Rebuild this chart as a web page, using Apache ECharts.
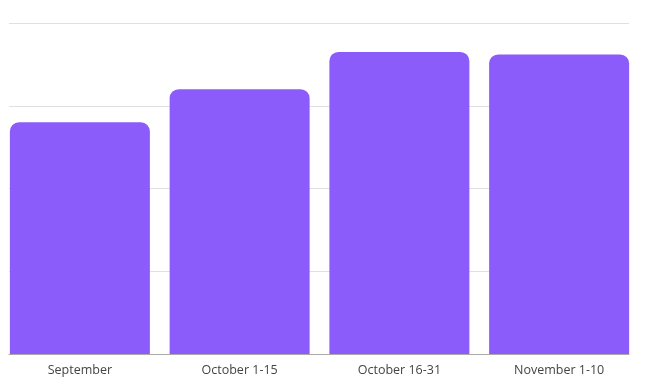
<!DOCTYPE html>
<html><head><meta charset="utf-8">
<script src="https://cdn.jsdelivr.net/npm/echarts@6/dist/echarts.min.js"></script>
<style>html,body{margin:0;padding:0;background:#fff}#c{width:651px;height:386px}</style>
</head><body><div id="c"></div>
<script>
var categories = ["September", "October 1-15", "October 16-31", "November 1-10"];
var values = [280, 320, 365, 362];
var yTicks = [0, 100, 200, 300, 400];

var chart = echarts.init(document.getElementById('c'), null, {renderer: 'canvas'});
chart.setOption({
  animation: false,
  grid: [
    {left: 9, right: 22, top: 23, bottom: 32},
    {left: -1, right: 12, top: 23, bottom: 32}
  ],
  xAxis: [
    {gridIndex: 0, type: 'category', data: categories, axisLine: {show: true, lineStyle: {color: '#aaa'}}, axisTick: {show: false}, axisLabel: {show: false}},
    {gridIndex: 1, type: 'category', data: categories, axisLine: {show: false}, axisTick: {show: false},
     axisLabel: {fontFamily: 'Open Sans', fontSize: 12.5, color: '#444', margin: 10}}
  ],
  yAxis: [
    {gridIndex: 0, type: 'value', min: yTicks[0], max: yTicks[yTicks.length-1], interval: 100, axisLabel: {show: false}, axisLine: {show: false}, axisTick: {show: false}, splitLine: {lineStyle: {color: '#e0e0e0'}}},
    {gridIndex: 1, type: 'value', min: yTicks[0], max: yTicks[yTicks.length-1], interval: 100, axisLabel: {show: false}, axisLine: {show: false}, axisTick: {show: false}, splitLine: {show: false}}
  ],
  series: [{
    type: 'bar', xAxisIndex: 1, yAxisIndex: 1, data: values, barWidth: 140,
    itemStyle: {color: '#8C5CFA', borderRadius: [9, 9, 0, 0]}
  }]
});
</script></body></html>
